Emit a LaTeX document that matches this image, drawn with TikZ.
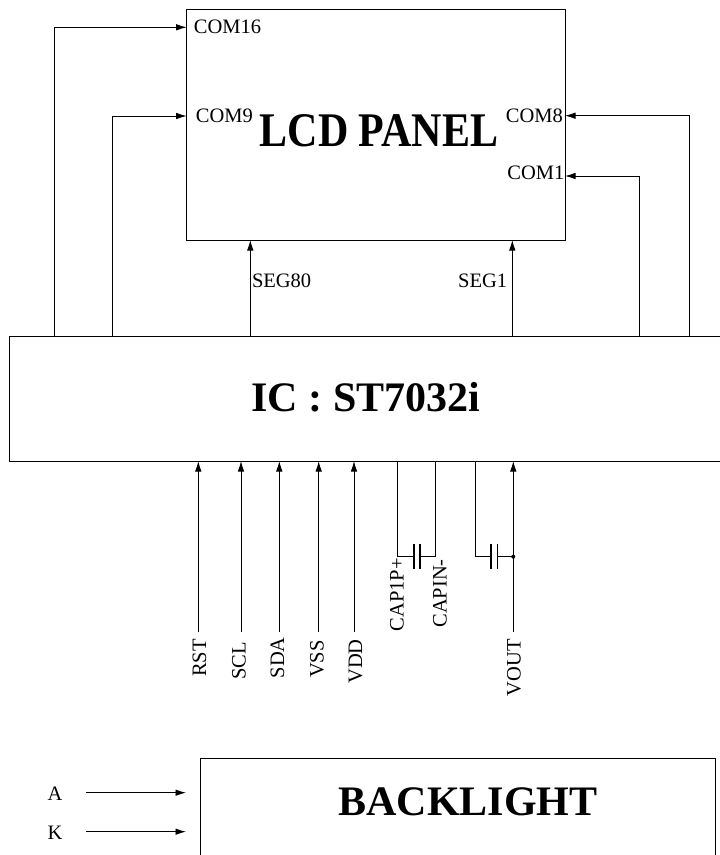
\documentclass[tikz,border=0pt]{standalone}
\usepackage{fontspec}
\usepackage{graphicx}
\setmainfont{Liberation Serif}
\usetikzlibrary{arrows.meta}
\begin{document}
\begin{tikzpicture}[x=1pt,y=-1pt,
  box/.style={draw, line width=0.9pt, inner sep=0pt, outer sep=0pt},
  arr/.style={line width=0.9pt, -{Latex[length=10.5pt,width=6.5pt]}},
  wire/.style={line width=0.9pt},
  lbl/.style={font=\fontsize{20.5}{24}\selectfont, inner sep=0pt},
  big/.style={font=\fontsize{42}{48}\selectfont\bfseries, inner sep=0pt},
  vlbl/.style={lbl, rotate=90, anchor=east},
  plate/.style={line width=1.6pt}
]
\useasboundingbox (0,0) rectangle (720,855);
% blocks
\node[box, anchor=north west, minimum width=378.3pt, minimum height=231pt] (lcd) at (186.7,9) {};
\node[box, anchor=north west, minimum width=800pt, minimum height=125pt] (ic) at (9,336) {};
\node[box, anchor=north west, minimum width=515pt, minimum height=130pt] (bl) at (200,758) {};
\node[big, anchor=base] (lcdt) at (379,146) {\scalebox{1}[1.15]{LCD PANEL}};
\node[big] (ict) at (366,397) {IC : ST7032i};
\node[big] (blt) at (468,801.5) {BACKLIGHT};
% COM lines
\coordinate (p16) at (54.3,27.3);
\coordinate (p9) at (112.7,116);
\coordinate (p8) at (689,115.7);
\coordinate (p1) at (639.3,176);
\draw[arr] (p16 |- ic.north) |- (p16 -| lcd.west);
\draw[arr] (p9 |- ic.north) |- (p9 -| lcd.west);
\draw[arr] (p8 |- ic.north) |- (p8 -| lcd.east);
\draw[arr] (p1 |- ic.north) |- (p1 -| lcd.east);
\node[lbl, anchor=west] (l16) at ([xshift=7pt]p16 -| lcd.west) {COM16};
\node[lbl, anchor=west] (l9) at ([xshift=9pt]p9 -| lcd.west) {COM9};
\node[lbl, anchor=east] (l8) at ([xshift=-2pt]p8 -| lcd.east) {COM8};
\node[lbl, anchor=east] (l1) at ([xshift=-0.5pt,yshift=3pt]p1 -| lcd.east) {COM1};
% SEG lines
\coordinate (s80) at (250.3,281);
\coordinate (s1) at (512.3,281);
\draw[arr] (s80 |- ic.north) -- (s80 |- lcd.south);
\draw[arr] (s1 |- ic.north) -- (s1 |- lcd.south);
\node[lbl, anchor=west] (ls80) at ([xshift=1.5pt]s80) {SEG80};
\node[lbl, anchor=east] (ls1) at ([xshift=-5pt]s1) {SEG1};
% inputs
\coordinate (rst) at (198.3,632);
\coordinate (scl) at (241,632);
\coordinate (sda) at (279.3,632);
\coordinate (vss) at (318.7,632);
\coordinate (vdd) at (354,632);
\coordinate (vout) at (513.3,632);
\foreach \p in {rst,scl,sda,vss,vdd,vout}
  \draw[arr] (\p) -- (\p |- ic.south);
\node[vlbl] (lrst) at (199.5,639) {RST};
\node[vlbl] (lscl) at (239,642) {SCL};
\node[vlbl] (lsda) at (277.5,637) {SDA};
\node[vlbl] (lvss) at (317,640) {VSS};
\node[vlbl] (lvdd) at (355.5,639) {VDD};
\node[vlbl] (lvout) at (514,639) {VOUT};
% capacitors
\coordinate (cp) at (397.3,556.7);
\coordinate (cn) at (435.7,556.7);
\coordinate (c2) at (475,556.7);
\coordinate (vj) at (513.3,556.7);
\draw[wire] (cp |- ic.south) -- (cp) -- (414,556.7);
\draw[plate] (414,544) -- (414,569);
\draw[plate] (420,544) -- (420,569);
\draw[wire] (420,556.7) -- (cn) -- (cn |- ic.south);
\draw[wire] (c2 |- ic.south) -- (c2) -- (490.7,556.7);
\draw[plate] (490.7,544) -- (490.7,569);
\draw[plate] (497.3,544) -- (497.3,569);
\draw[wire] (497.3,556.7) -- (vj);
\fill (vj) circle (2pt);
\node[vlbl] (lcp) at (397,558) {CAP1P+};
\node[vlbl] (lcn) at (440,559) {CAPIN-};
% backlight inputs
\coordinate (pa) at (86,792.7);
\coordinate (pk) at (86,831.7);
\draw[arr, shorten >=14pt] (pa) -- (pa -| bl.west);
\draw[arr, shorten >=14pt] (pk) -- (pk -| bl.west);
\node[lbl] (la) at (55,794) {A};
\node[lbl] (lk) at (55,833) {K};
\end{tikzpicture}
\end{document}
